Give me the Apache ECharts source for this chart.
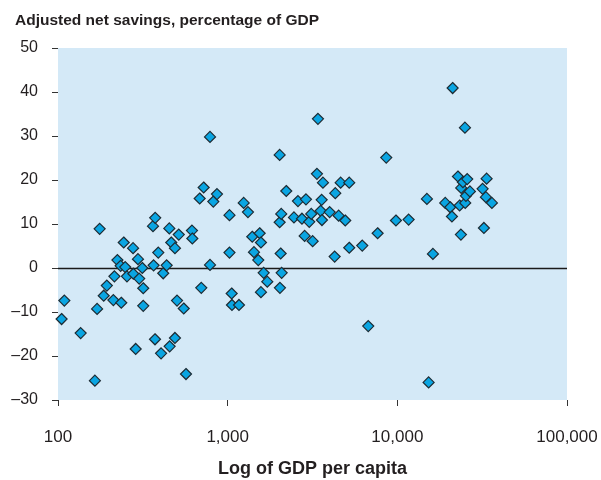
<!DOCTYPE html>
<html lang="en">
<head>
    <meta charset="utf-8">
    <title>Adjusted net savings</title>
    <script type="text/javascript" src="https://cdn.jsdelivr.net/npm/echarts@6/dist/echarts.min.js"></script>
    <style>
        html, body { margin: 0; padding: 0; background: #fff; }
        #main { width: 601px; height: 480px; }
    </style>
</head>
<body>
<div id="main"></div>
<script>
    // GDP per capita (US$)
    var gdpPerCapita = [
        105, 109, 136, 165, 170, 176, 186, 194, 212, 215,
        224, 234, 236, 244, 249, 255, 277, 278, 287, 296,
        301, 314, 318, 318, 363, 366, 373, 374, 390, 405,
        417, 437, 453, 455, 465, 489, 489, 503, 515, 551,
        568, 616, 619, 684, 699, 722, 787, 787, 823, 865,
        1025, 1025, 1056, 1060, 1166, 1243, 1317, 1396, 1429, 1515,
        1544, 1571, 1571, 1630, 1712, 2025, 2025, 2033, 2053, 2069,
        2081, 2215, 2459, 2596, 2741, 2843, 2894, 3026, 3109, 3169,
        3359, 3405, 3532, 3581, 3595, 3644, 3991, 4272, 4308, 4510,
        4634, 4932, 5206, 5206, 6213, 6739, 7654, 8604, 9812, 11658,
        14940, 15290, 16210, 19160, 20500, 20980, 21180, 22760, 23290, 23700,
        23800, 24360, 25030, 25130, 25370, 25820, 26780, 31810, 32380, 33270,
        33590, 36090
    ];
    // Adjusted net savings, % of GDP
    var netSavings = [
        -11.6, -7.4, -14.8, -25.6, -9.3, 8.9, -6.3, -4.0, -7.3, -1.9,
        1.8, 0.5, -7.9, 5.8, 0.2, -1.9, 4.5, -1.3, -18.4, 2.0,
        -2.4, 0.0, -4.6, -8.6, 9.5, 0.6, -16.2, 11.4, 3.5, -19.4,
        -1.2, 0.6, 9.0, -17.8, 5.8, 4.5, -15.9, -7.4, 7.6, -9.2,
        -24.1, 8.5, 6.7, 15.8, -4.5, 18.3, 29.8, 0.7, 15.1, 16.8,
        12.0, 3.5, -5.8, -8.4, -8.4, 14.8, 12.7, 7.1, 3.6, 1.8,
        7.9, 5.8, -5.5, -1.1, -3.1, 25.7, 10.4, -4.5, 3.3, 12.3,
        -1.1, 17.5, 11.5, 15.2, 11.2, 7.3, 15.6, 10.5, 12.3, 6.1,
        21.4, 33.9, 13.0, 15.5, 10.9, 19.4, 12.7, 2.6, 17.0, 11.9,
        19.4, 10.8, 19.4, 4.6, 5.1, -13.2, 7.9, 25.1, 10.8, 11.0,
        15.7, -26.0, 3.2, 14.8, 13.8, 11.7, 40.9, 20.8, 14.2, 7.6,
        18.2, 19.5, 31.9, 14.8, 16.4, 20.2, 17.4, 18.0, 9.1, 16.1,
        20.3, 14.8
    ];
    var xTicks = [100, 1000, 10000, 100000];

    var points = gdpPerCapita.map(function (g, i) { return [g, netSavings[i]]; });

    var textColor = '#231f20';
    var font = 'Liberation Sans, Arial, sans-serif';
    var chart = echarts.init(document.getElementById('main'));
    var option = {
        animation: false,
        title: {
            text: 'Adjusted net savings, percentage of GDP',
            left: 10,
            top: 8,
            textStyle: {
                fontFamily: font,
                fontSize: 15.5,
                fontWeight: 'bold',
                color: textColor
            }
        },
        grid: {
            left: 58,
            right: 34,
            top: 48,
            bottom: 80,
            outerBoundsMode: 'none',
            containLabel: false,
            show: true,
            backgroundColor: '#d4e9f7',
            borderWidth: 0
        },
        xAxis: {
            type: 'log',
            logBase: 10,
            min: xTicks[0],
            max: xTicks[xTicks.length - 1],
            name: 'Log of GDP per capita',
            nameLocation: 'middle',
            nameGap: 60,
            nameTextStyle: {
                fontFamily: font,
                fontSize: 18,
                fontWeight: 'bold',
                color: textColor
            },
            axisLine: { show: false, onZero: false },
            axisTick: { show: true, length: 6, lineStyle: { color: '#333', width: 1 } },
            minorTick: { show: false },
            splitLine: { show: false },
            axisLabel: {
                margin: 29,
                fontFamily: font,
                fontSize: 17,
                color: textColor,
                formatter: function (v) { return Math.round(v).toLocaleString('en-US'); }
            }
        },
        yAxis: {
            type: 'value',
            min: -30,
            max: 50,
            interval: 10,
            axisLine: { show: false },
            axisTick: { show: true, length: 6, lineStyle: { color: '#333', width: 1 } },
            splitLine: { show: false },
            axisLabel: {
                margin: 20,
                fontFamily: font,
                fontSize: 16,
                color: textColor,
                formatter: function (v) { return v < 0 ? '\u2013' + Math.abs(v) : String(v); }
            }
        },
        series: [{
            type: 'scatter',
            data: points,
            symbol: 'diamond',
            symbolSize: 11,
            itemStyle: {
                color: '#0aa5e2',
                borderColor: '#1d2b33',
                borderWidth: 1.2,
                opacity: 1
            },
            markLine: {
                silent: true,
                symbol: 'none',
                label: { show: false },
                lineStyle: { color: '#1a1a1a', width: 1.3, type: 'solid' },
                data: [{ yAxis: 0 }],
                z: 1
            }
        }]
    };
    chart.setOption(option);
</script>
</body>
</html>
